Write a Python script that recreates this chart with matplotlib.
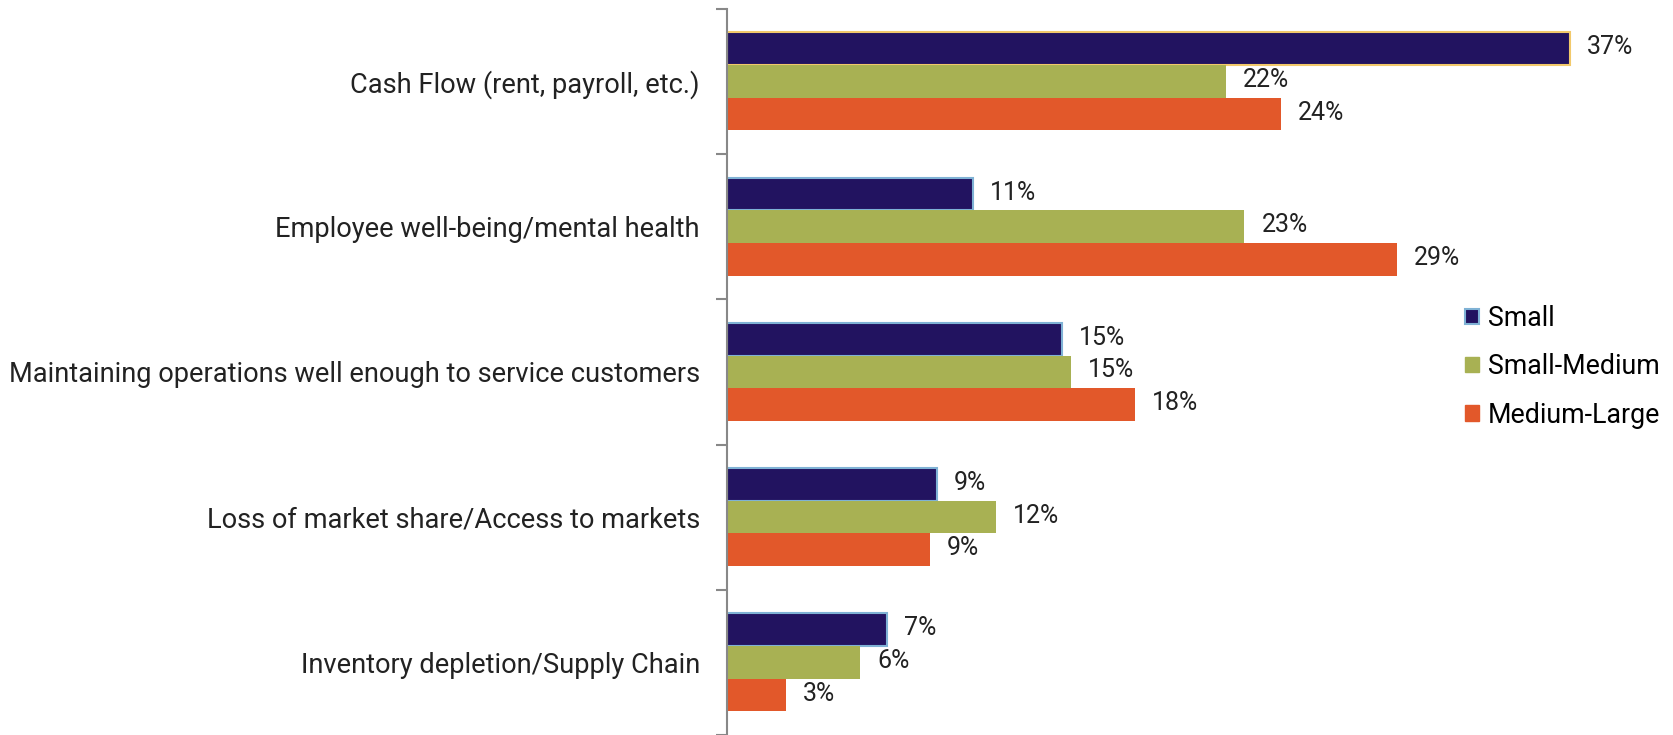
import matplotlib
matplotlib.use("Agg")
import matplotlib.pyplot as plt
import numpy as np
from matplotlib.patches import Patch

plt.rcParams['font.family'] = ['Roboto', 'DejaVu Sans']

categories = ["Cash Flow (rent, payroll, etc.)",
              "Employee well-being/mental health",
              "Maintaining operations well enough to service customers",
              "Loss of market share/Access to markets",
              "Inventory depletion/Supply Chain"]
series = ["Small", "Small-Medium", "Medium-Large"]
# bar lengths, labels as printed
small = [37.0, 10.8, 14.7, 9.2, 7.0]
small_medium = [21.9, 22.7, 15.1, 11.8, 5.85]
medium_large = [24.3, 29.4, 17.9, 8.9, 2.6]
small_lbl = ["37%", "11%", "15%", "9%", "7%"]
small_medium_lbl = ["22%", "23%", "15%", "12%", "6%"]
medium_large_lbl = ["24%", "29%", "18%", "9%", "3%"]

colors = ["#221360", "#a8b153", "#e2582a"]
small_edges = ["#f2c96b", "#7fb2d5", "#7fb2d5", "#7fb2d5", "#7fb2d5"]

fig = plt.figure(figsize=(16.74, 7.35), dpi=100)
ax = fig.add_axes([0.4343, 0.0, 0.5445, 0.988])

n = len(categories)
y = np.arange(n)[::-1]
h = 0.225
offs = [h, 0, -h]
vals = [small, small_medium, medium_large]
lbls = [small_lbl, small_medium_lbl, medium_large_lbl]
for k in range(3):
    if k == 0:
        ec = small_edges
        lw = 1.5
    else:
        ec = colors[k]
        lw = 0
    bars = ax.barh(y + offs[k], vals[k], height=h, color=colors[k],
                   edgecolor=ec, linewidth=lw)
    for b, t in zip(bars, lbls[k]):
        ax.text(b.get_width() + 0.75, b.get_y() + b.get_height() / 2 + 0.01,
                t, va='center', ha='left', fontsize=18, color='#222222')

ax.set_xlim(0, 40)
ax.set_ylim(-0.5, n - 0.5)
ax.set_yticks(y)
ax.set_yticklabels(categories, fontsize=19.6, color='#222222')
ax.tick_params(axis='y', which='major', length=0, pad=19.5)
ax.set_yticks(np.arange(-0.5, n, 1), minor=True)
ax.tick_params(axis='y', which='minor', length=8, color='#888888', width=1.5)
ax.set_xticks([])
for s in ['top', 'right', 'bottom']:
    ax.spines[s].set_visible(False)
ax.spines['left'].set_color('#888888')
ax.spines['left'].set_linewidth(1.5)

handles = [Patch(facecolor=colors[0], edgecolor="#7fb2d5", linewidth=1.5),
           Patch(facecolor=colors[1], edgecolor=colors[1]),
           Patch(facecolor=colors[2], edgecolor=colors[2])]
fig.legend(handles, series, loc='upper left', bbox_to_anchor=(0.869, 0.6),
           frameon=False, fontsize=19.3, handlelength=0.5, handleheight=0.5,
           handletextpad=0.35, labelspacing=0.8, borderaxespad=0)

fig.savefig("out.png", dpi=100, facecolor='white')
